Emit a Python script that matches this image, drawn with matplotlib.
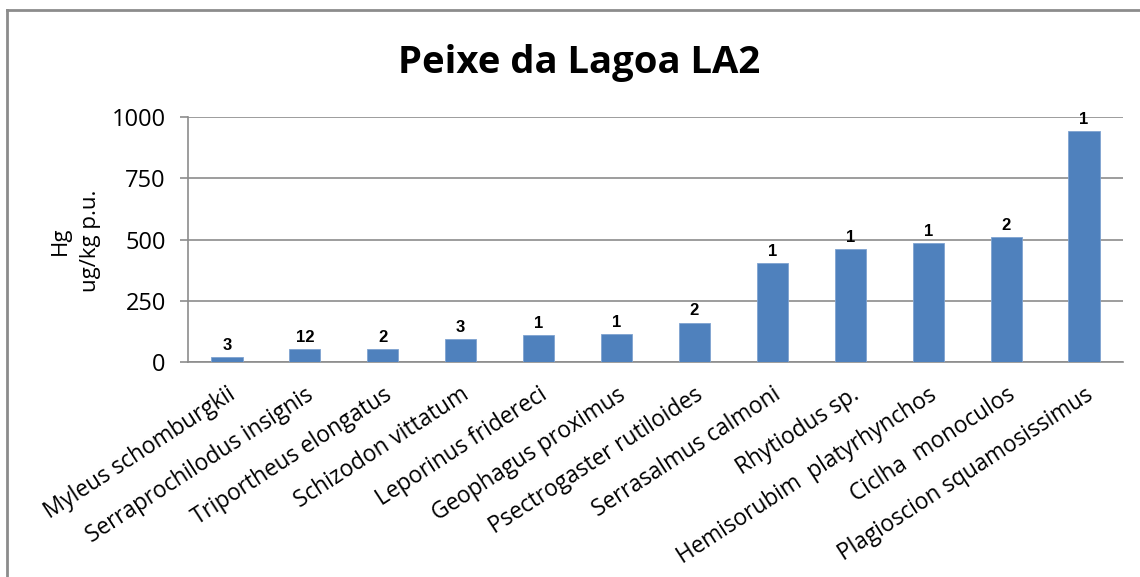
import numpy as np
import matplotlib
matplotlib.use("Agg")
import matplotlib.pyplot as plt
from matplotlib.lines import Line2D

plt.rcParams['font.family'] = ['Open Sans', 'DejaVu Sans']

# data
species = ["Myleus schomburgkii", "Serraprochilodus insignis", "Triportheus elongatus",
           "Schizodon vittatum", "Leporinus fridereci", "Geophagus proximus",
           "Psectrogaster rutiloides", "Serrasalmus calmoni", "Rhytiodus sp.",
           "Hemisorubim  platyrhynchos", "Ciclha  monoculos", "Plagioscion squamosissimus"]
hg = [20, 53, 52, 92, 111, 115, 161, 404, 460, 484, 510, 942]
n_samples = [3, 12, 2, 3, 1, 1, 2, 1, 1, 1, 2, 1]
yticks = [0, 250, 500, 750, 1000]

bar_color = "#4F81BD"
grid_color = "#8C8C8C"

fig = plt.figure(figsize=(11.4, 5.77), dpi=100)
ax = fig.add_axes([0.1649, 0.3726, 0.8202, 0.4246])

x = np.arange(len(species))
bars = ax.bar(x, hg, width=0.4, color=bar_color, edgecolor="#7FA3D0", linewidth=0.6, zorder=3)

for b, n in zip(bars, n_samples):
    ax.annotate(str(n), (b.get_x() + b.get_width() / 2, b.get_height()),
                xytext=(0, 3), textcoords="offset points", ha="center", va="bottom",
                fontsize=12, fontweight="bold", family=["Liberation Sans"], zorder=4)

ax.set_xlim(-0.5, len(species) - 0.5)
ax.set_ylim(0, 1000)
ax.set_yticks(yticks)
ax.set_yticklabels([str(v) for v in yticks], fontsize=17)
ax.set_xticks(x)
ax.set_xticklabels(species, rotation=33, ha="right", rotation_mode="anchor", fontsize=16.3)
ax.tick_params(axis="x", length=0, pad=15)
ax.tick_params(axis="y", length=6, width=1.2, color=grid_color, pad=10)

ax.grid(axis="y", color=grid_color, linewidth=1.2, zorder=0)
for s in ["top", "right"]:
    ax.spines[s].set_visible(False)
for s in ["left", "bottom"]:
    ax.spines[s].set_color(grid_color)
    ax.spines[s].set_linewidth(1.2)

fig.text(0.508, 0.891, "Peixe da Lagoa LA2", ha="center", va="center",
         fontsize=27.5, fontweight="bold")
fig.text(0.066, 0.582, "Hg\nug/kg p.u.", ha="center", va="center",
         rotation=90, fontsize=16, linespacing=1.6)

# outer chart frame (only left and top visible in the crop)
fig.add_artist(Line2D([7 / 1140, 7 / 1140], [0, 1 - 10 / 577], transform=fig.transFigure,
                      color="#8C8C8C", linewidth=2))
fig.add_artist(Line2D([7 / 1140, 1], [1 - 10 / 577, 1 - 10 / 577], transform=fig.transFigure,
                      color="#8C8C8C", linewidth=2))

plt.savefig("out.png", dpi=100)
